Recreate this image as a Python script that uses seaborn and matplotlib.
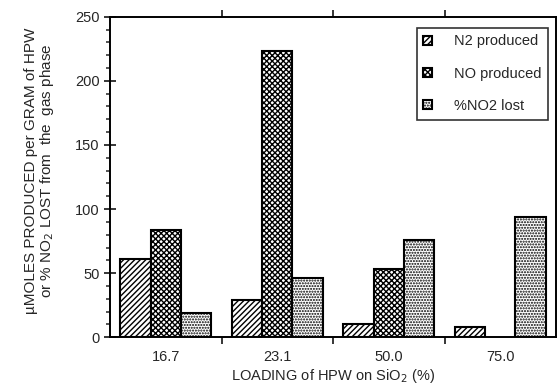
import numpy as np
import pandas as pd
import matplotlib
matplotlib.use("Agg")
import matplotlib.pyplot as plt
import seaborn as sns
from matplotlib.ticker import MultipleLocator, FixedLocator, NullFormatter

loadings = ["16.7", "23.1", "50.0", "75.0"]
series = ["N2 produced", "NO produced", "%NO2 lost"]
n2_produced = [61, 29, 10, 8]
no_produced = [84, 223, 53, np.nan]
no2_lost = [19, 46, 76, 94]

df = pd.DataFrame({
    "loading": loadings * 3,
    "series": [series[0]] * 4 + [series[1]] * 4 + [series[2]] * 4,
    "value": n2_produced + no_produced + no2_lost,
})

sns.set_theme(style="ticks")
plt.rcParams["font.family"] = ["Liberation Sans", "DejaVu Sans"]
plt.rcParams["hatch.linewidth"] = 1.0

fig = plt.figure(figsize=(5.58, 3.87), dpi=100)
ax = fig.add_axes([110 / 558, 1 - 337.3 / 387, 446 / 558, (337.3 - 16.7) / 387])

sns.barplot(data=df, x="loading", y="value", hue="series", order=loadings,
            hue_order=series, ax=ax, width=0.82, edgecolor="black",
            linewidth=1.5, palette=["white"] * 3, saturation=1,
            legend=True)

hatches = ["//////", "xxxxxx", "......"]
for cont, h in zip(ax.containers, hatches):
    for bar in cont:
        bar.set_hatch(h)
        bar.set_facecolor("white")
        bar.set_edgecolor("black")

ax.set_xlim(-0.5, 3.5)
ax.set_ylim(0, 250)

ax.yaxis.set_major_locator(MultipleLocator(50))
ax.yaxis.set_minor_locator(MultipleLocator(10))
ax.tick_params(axis="y", which="major", direction="inout", length=8, width=1.3, labelsize=10.5)
ax.tick_params(axis="y", which="minor", direction="out", length=3, width=1.1)

ax.xaxis.set_major_locator(FixedLocator([0.5, 1.5, 2.5]))
ax.xaxis.set_major_formatter(NullFormatter())
ax.xaxis.set_minor_locator(FixedLocator([0, 1, 2, 3]))
ax.set_xticklabels(loadings, minor=True)
ax.tick_params(axis="x", which="major", direction="out", length=5, width=1.3,
               top=True, bottom=True)
ax.tick_params(axis="x", which="minor", length=0, labelsize=10.5, pad=9)

for s in ax.spines.values():
    s.set_linewidth(1.4)
    s.set_color("black")

ax.set_xlabel("LOADING of HPW on SiO$_2$ (%)", fontsize=10.5, labelpad=2)
ax.set_ylabel("µMOLES PRODUCED per GRAM of HPW\nor % NO$_2$ LOST from  the  gas phase",
              fontsize=11, linespacing=1.05)
ax.yaxis.set_label_coords(-0.12, 0.52)

handles, labels = ax.get_legend_handles_labels()
for hnd, h in zip(handles, hatches):
    hnd.set_hatch(h)
    hnd.set_facecolor("white")
    hnd.set_edgecolor("black")
leg = ax.legend(handles, labels, loc="upper right", bbox_to_anchor=(0.982, 0.965),
                fontsize=10.5, frameon=True, fancybox=False, edgecolor="black",
                handlelength=0.6, handleheight=0.6, labelspacing=1.25,
                borderpad=0.45, handletextpad=1.5, borderaxespad=0.0)
leg.get_frame().set_linewidth(1.2)

fig.savefig("out.png", dpi=100)
